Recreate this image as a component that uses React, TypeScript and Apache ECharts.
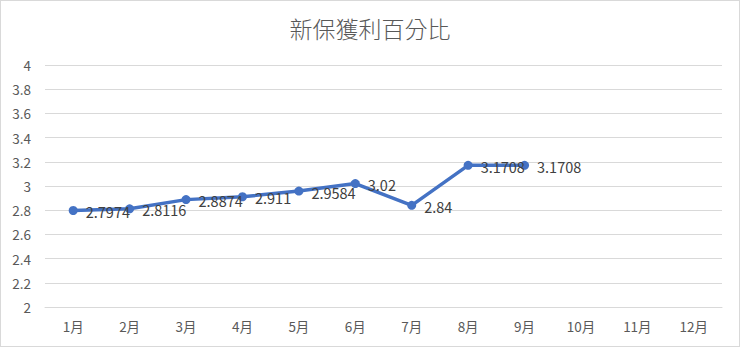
import React, { useEffect, useRef } from "react";
import * as echarts from "echarts";

const title = "新保獲利百分比";
const categories = ["1月", "2月", "3月", "4月", "5月", "6月", "7月", "8月", "9月", "10月", "11月", "12月"];
const values: (number | null)[] = [2.7974, 2.8116, 2.8874, 2.911, 2.9584, 3.02, 2.84, 3.1708, 3.1708, null, null, null];
const yMin = 2;
const yMax = 4;
const yStep = 0.2;

export default function App() {
  const ref = useRef<HTMLDivElement>(null);
  useEffect(() => {
    document.body.style.margin = "0";
    const chart = echarts.init(ref.current!, undefined, { renderer: "svg" });
    const font = "'Noto Sans CJK TC', 'Noto Sans', sans-serif";
    chart.setOption({
      animation: false,
      backgroundColor: "#ffffff",
      textStyle: { fontFamily: font },
      title: {
        text: title,
        left: "center",
        top: 10,
        textStyle: { fontSize: 23, fontWeight: 300, color: "#595959", fontFamily: font },
      },
      grid: { left: 44, right: 17, top: 64, bottom: 39, containLabel: false },
      xAxis: {
        type: "category",
        data: categories,
        boundaryGap: true,
        axisLine: { show: true, lineStyle: { color: "#d9d9d9" } },
        axisTick: { show: false },
        axisLabel: { color: "#595959", fontSize: 13.5, margin: 12 },
      },
      yAxis: {
        type: "value",
        min: yMin,
        max: yMax,
        interval: yStep,
        axisLine: { show: false },
        axisTick: { show: false },
        splitLine: { lineStyle: { color: "#d9d9d9" } },
        axisLabel: {
          color: "#595959",
          fontSize: 13.5,
          margin: 14,
          formatter: (v: number) => String(Math.round(v * 10) / 10),
        },
      },
      series: [
        {
          type: "line",
          data: values,
          symbol: "circle",
          symbolSize: 9,
          lineStyle: { color: "#4472C4", width: 3.5 },
          itemStyle: { color: "#4472C4" },
          label: {
            show: true,
            position: "right",
            offset: [3, 1],
            color: "#404040",
            fontSize: 14.5,
            formatter: (p: any) => String(p.value),
          },
        },
      ],
    });
    return () => chart.dispose();
  }, []);
  return (
    <div
      style={{
        position: "absolute",
        left: 0,
        top: 0,
        width: 740,
        height: 347,
        boxSizing: "border-box",
        border: "1px solid #d9d9d9",
        background: "#fff",
      }}
    >
      <div ref={ref} style={{ width: 738, height: 345 }} />
    </div>
  );
}
